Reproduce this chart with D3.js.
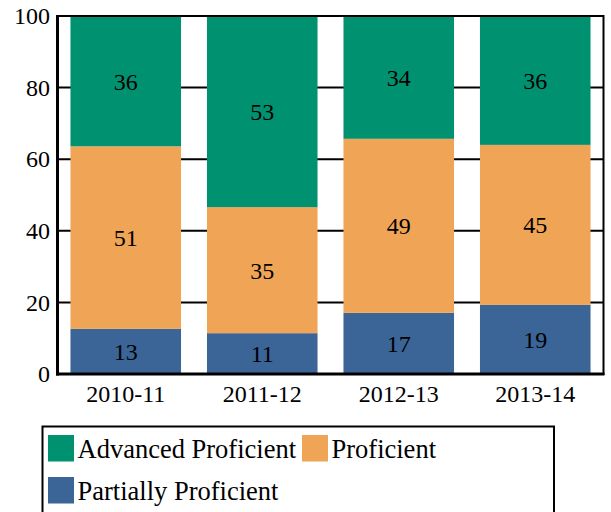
<!DOCTYPE html>
<html>
<head>
<meta charset="utf-8">
<script src="https://cdn.jsdelivr.net/npm/d3@7"></script>
<style>
  html, body { margin: 0; padding: 0; background: #fff; }
  svg text { font-family: "Liberation Serif", "Times New Roman", Times, "DejaVu Serif", serif !important; }
</style>
</head>
<body>
<svg id="chart" width="611" height="512"></svg>
<script>
// Share of students by proficiency level, per school year (percent)
const categories = ["2010-11", "2011-12", "2012-13", "2013-14"];
const partiallyProficient = [12.6, 11.4, 17.1, 19.3];
const proficient = [51.0, 35.2, 48.6, 44.7];
const advancedProficient = [36.4, 53.4, 34.3, 36.0];
const yTicks = [0, 20, 40, 60, 80, 100];
const seriesKeys = ["Partially Proficient", "Proficient", "Advanced Proficient"];
const seriesColors = ["#3a6596", "#f0a455", "#009270"];
const legendOrder = ["Advanced Proficient", "Proficient", "Partially Proficient"];

const table = categories.map((c, i) => ({
  year: c,
  "Partially Proficient": partiallyProficient[i],
  "Proficient": proficient[i],
  "Advanced Proficient": advancedProficient[i]
}));

const svg = d3.select("#chart");
const plot = { left: 57.5, right: 603.5, top: 16, bottom: 374 };

const x = d3.scaleBand()
  .domain(categories)
  .range([plot.left, plot.right])
  .paddingInner(0.19)
  .paddingOuter(0.095);

const y = d3.scaleLinear().domain([0, 100]).range([plot.bottom, plot.top]);

const color = d3.scaleOrdinal().domain(seriesKeys).range(seriesColors);

// horizontal gridlines behind the bars
svg.append("g")
  .selectAll("line")
  .data(yTicks.filter(t => t > 0 && t < 100))
  .join("line")
  .attr("x1", plot.left).attr("x2", plot.right)
  .attr("y1", d => y(d)).attr("y2", d => y(d))
  .attr("stroke", "#000").attr("stroke-width", 2);

// stacked bars
const stacked = d3.stack().keys(seriesKeys)(table);
const fmt = d3.format(".0f");

const layers = svg.append("g")
  .selectAll("g")
  .data(stacked)
  .join("g")
  .attr("fill", d => color(d.key));

layers.selectAll("rect")
  .data(d => d)
  .join("rect")
  .attr("x", d => x(d.data.year))
  .attr("width", x.bandwidth())
  .attr("y", d => y(d[1]))
  .attr("height", d => y(d[0]) - y(d[1]));

// value labels centred in each segment
svg.append("g")
  .selectAll("g")
  .data(stacked)
  .join("g")
  .selectAll("text")
  .data(d => d)
  .join("text")
  .attr("x", d => x(d.data.year) + x.bandwidth() / 2)
  .attr("y", d => (y(d[0]) + y(d[1])) / 2)
  .attr("dy", "0.35em")
  .attr("text-anchor", "middle")
  .attr("font-size", 24)
  .attr("fill", "#000")
  .text(d => fmt(d[1] - d[0]));

// frame around the plot area
svg.append("rect")
  .attr("x", plot.left).attr("y", plot.top)
  .attr("width", plot.right - plot.left)
  .attr("height", plot.bottom - plot.top)
  .attr("fill", "none")
  .attr("stroke", "#000")
  .attr("stroke-width", 2);
svg.append("line")
  .attr("x1", plot.left).attr("x2", plot.left)
  .attr("y1", plot.top - 1).attr("y2", plot.bottom + 1.5)
  .attr("stroke", "#000").attr("stroke-width", 3);
svg.append("line")
  .attr("x1", plot.left - 1.5).attr("x2", plot.right + 1)
  .attr("y1", plot.bottom).attr("y2", plot.bottom)
  .attr("stroke", "#000").attr("stroke-width", 3);

// axes
const yAxis = svg.append("g")
  .attr("transform", `translate(${plot.left},0)`)
  .call(d3.axisLeft(y).tickValues(yTicks).tickSize(0).tickPadding(7.5));
yAxis.select(".domain").remove();
yAxis.selectAll("text")
  .attr("font-size", 24)
  .attr("fill", "#000");

const xAxis = svg.append("g")
  .attr("transform", `translate(0,${plot.bottom})`)
  .call(d3.axisBottom(x).tickSize(0).tickPadding(10.5));
xAxis.select(".domain").remove();
xAxis.selectAll("text")
  .attr("font-size", 24)
  .attr("fill", "#000");

// legend
const legend = svg.append("g").attr("transform", "translate(42.5,426.5)");
legend.append("rect")
  .attr("width", 511.5).attr("height", 110)
  .attr("fill", "#fff")
  .attr("stroke", "#000")
  .attr("stroke-width", 2);

const legendPos = [[5.5, 8.5], [259.5, 8.5], [5.5, 50.5]];
const items = legend.selectAll("g.item")
  .data(legendOrder)
  .join("g")
  .attr("class", "item")
  .attr("transform", (d, i) => `translate(${legendPos[i][0]},${legendPos[i][1]})`);
items.append("rect")
  .attr("width", 26).attr("height", 26.5)
  .attr("fill", d => color(d));
items.append("text")
  .attr("x", 29.5)
  .attr("y", 23)
  .attr("font-size", 26.5)
  .attr("fill", "#000")
  .text(d => d);
</script>
</body>
</html>
